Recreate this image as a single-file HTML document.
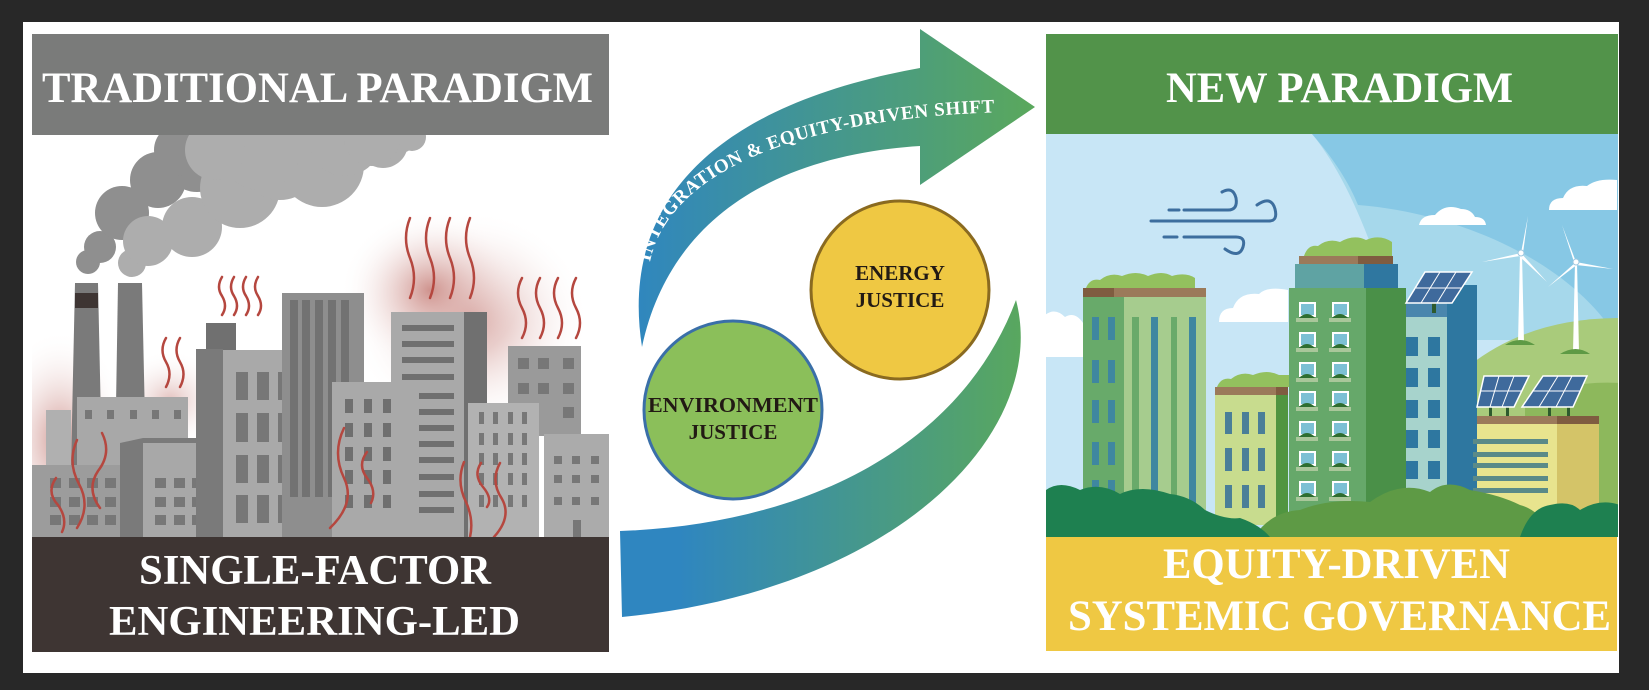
<!DOCTYPE html>
<html><head><meta charset="utf-8"><style>
html,body{margin:0;padding:0;background:#282828;}
svg{display:block;}
text{font-family:"Liberation Serif",serif;font-weight:bold;}
</style></head><body>
<svg width="1649" height="690" viewBox="0 0 1649 690" xmlns="http://www.w3.org/2000/svg">
<defs>
<linearGradient id="g1" gradientUnits="userSpaceOnUse" x1="630" y1="0" x2="1035" y2="0"><stop offset="0" stop-color="#2f86c0"/><stop offset="1" stop-color="#5aa85c"/></linearGradient>
<linearGradient id="g2" gradientUnits="userSpaceOnUse" x1="640" y1="0" x2="1030" y2="0"><stop offset="0.1" stop-color="#2f86c0"/><stop offset="1" stop-color="#5aa85c"/></linearGradient>
<radialGradient id="glow"><stop offset="0" stop-color="#c98680" stop-opacity="0.85"/><stop offset="1" stop-color="#ffffff" stop-opacity="0"/></radialGradient>
<clipPath id="lc"><rect x="32" y="135" width="577" height="402"/></clipPath>
<clipPath id="rc"><rect x="1046" y="134" width="572" height="403"/></clipPath>
</defs>
<rect x="23" y="22" width="1596" height="651" fill="#ffffff"/>

<!-- LEFT PANEL -->
<g clip-path="url(#lc)">
<ellipse cx="470" cy="320" rx="120" ry="110" fill="url(#glow)"/>
<ellipse cx="430" cy="290" rx="90" ry="80" fill="url(#glow)"/>
<ellipse cx="60" cy="440" rx="70" ry="110" fill="url(#glow)"/>
<ellipse cx="170" cy="400" rx="60" ry="50" fill="url(#glow)" opacity="0.6"/>
<!-- smoke -->
<g fill="#8f8f8f">
<circle cx="88" cy="262" r="12"/><circle cx="100" cy="247" r="16"/><circle cx="122" cy="213" r="27"/><circle cx="158" cy="180" r="28"/><circle cx="197" cy="160" r="32"/><circle cx="230" cy="140" r="30"/><circle cx="180" cy="150" r="26"/>
</g>
<g fill="#adadad">
<circle cx="132" cy="263" r="14"/><circle cx="148" cy="241" r="25"/><circle cx="192" cy="227" r="30"/><circle cx="240" cy="188" r="40"/><circle cx="280" cy="160" r="40"/><circle cx="322" cy="165" r="42"/><circle cx="383" cy="143" r="25"/><circle cx="300" cy="135" r="40"/><circle cx="400" cy="135" r="18"/>
<circle cx="260" cy="150" r="40"/><circle cx="345" cy="140" r="36"/><circle cx="372" cy="138" r="28"/><circle cx="215" cy="150" r="30"/><circle cx="412" cy="137" r="14"/>
</g>
<!-- chimneys -->
<polygon points="75,283 98,283 102,467 71,467" fill="#7a7a7a"/>
<rect x="75" y="293" width="23" height="15" fill="#3e3533"/>
<polygon points="118,283 142,283 146,467 115,467" fill="#7a7a7a"/>
<!-- factory -->
<rect x="46" y="410" width="25" height="60" fill="#b0b0b0"/>
<rect x="77" y="397" width="111" height="70" fill="#a8a8a8"/>
<g fill="#777"><rect x="85" y="410" width="7" height="9"/><rect x="107" y="410" width="7" height="9"/><rect x="130" y="410" width="7" height="9"/><rect x="152" y="410" width="7" height="9"/><rect x="174" y="410" width="7" height="9"/></g>
<rect x="32" y="465" width="90" height="72" fill="#9c9c9c"/>
<g fill="#777"><rect x="50" y="478" width="11" height="10"/><rect x="69" y="478" width="11" height="10"/><rect x="87" y="478" width="11" height="10"/><rect x="105" y="478" width="11" height="10"/>
<rect x="50" y="497" width="11" height="10"/><rect x="69" y="497" width="11" height="10"/><rect x="87" y="497" width="11" height="10"/><rect x="105" y="497" width="11" height="10"/>
<rect x="50" y="515" width="11" height="10"/><rect x="69" y="515" width="11" height="10"/><rect x="87" y="515" width="11" height="10"/><rect x="105" y="515" width="11" height="10"/></g>
<!-- building B -->
<polygon points="120,443 143,438 211,438 211,537 120,537" fill="#7a7a7a"/>
<rect x="143" y="443" width="68" height="94" fill="#a8a8a8"/>
<g fill="#777"><rect x="155" y="478" width="11" height="10"/><rect x="174" y="478" width="11" height="10"/><rect x="192" y="478" width="11" height="10"/>
<rect x="155" y="497" width="11" height="10"/><rect x="174" y="497" width="11" height="10"/><rect x="192" y="497" width="11" height="10"/>
<rect x="155" y="515" width="11" height="10"/><rect x="174" y="515" width="11" height="10"/><rect x="192" y="515" width="11" height="10"/></g>
<!-- building C -->
<rect x="206" y="323" width="30" height="27" fill="#707070"/>
<rect x="196" y="349" width="27" height="188" fill="#7a7a7a"/>
<rect x="223" y="350" width="78" height="187" fill="#a9a9a9"/>
<g fill="#777">
<rect x="236" y="372" width="12" height="28"/><rect x="257" y="372" width="12" height="28"/><rect x="278" y="372" width="12" height="28"/>
<rect x="236" y="413" width="12" height="29"/><rect x="257" y="413" width="12" height="29"/><rect x="278" y="413" width="12" height="29"/>
<rect x="236" y="455" width="12" height="28"/><rect x="257" y="455" width="12" height="28"/><rect x="278" y="455" width="12" height="28"/>
<rect x="236" y="495" width="12" height="28"/><rect x="257" y="495" width="12" height="28"/><rect x="278" y="495" width="12" height="28"/></g>
<!-- tall D -->
<rect x="282" y="293" width="82" height="244" fill="#8e8e8e"/>
<g fill="#727272"><rect x="290" y="300" width="8" height="197"/><rect x="302" y="300" width="8" height="197"/><rect x="315" y="300" width="8" height="197"/><rect x="328" y="300" width="8" height="197"/><rect x="341" y="300" width="8" height="197"/></g>
<!-- E -->
<rect x="332" y="382" width="84" height="155" fill="#a9a9a9"/>
<g fill="#6f6f6f">
<rect x="345" y="399" width="8" height="14"/><rect x="364" y="399" width="8" height="14"/><rect x="383" y="399" width="8" height="14"/><rect x="401" y="399" width="8" height="14"/>
<rect x="345" y="423" width="8" height="14"/><rect x="364" y="423" width="8" height="14"/><rect x="383" y="423" width="8" height="14"/><rect x="401" y="423" width="8" height="14"/>
<rect x="345" y="447" width="8" height="14"/><rect x="364" y="447" width="8" height="14"/><rect x="383" y="447" width="8" height="14"/><rect x="401" y="447" width="8" height="14"/>
<rect x="345" y="470" width="8" height="14"/><rect x="364" y="470" width="8" height="14"/><rect x="383" y="470" width="8" height="14"/><rect x="401" y="470" width="8" height="14"/>
<rect x="345" y="495" width="8" height="13"/><rect x="364" y="495" width="8" height="13"/><rect x="383" y="495" width="8" height="13"/><rect x="401" y="495" width="8" height="13"/></g>
<!-- F -->
<rect x="391" y="312" width="73" height="225" fill="#a9a9a9"/>
<rect x="464" y="312" width="23" height="225" fill="#707070"/>
<g fill="#6f6f6f">
<rect x="402" y="325" width="52" height="6"/><rect x="402" y="341" width="52" height="6"/><rect x="402" y="357" width="52" height="6"/><rect x="402" y="374" width="52" height="6"/>
<rect x="419" y="393" width="35" height="6"/><rect x="419" y="409" width="35" height="6"/><rect x="419" y="425" width="35" height="6"/><rect x="419" y="441" width="35" height="6"/><rect x="419" y="457" width="35" height="6"/><rect x="419" y="474" width="35" height="6"/><rect x="419" y="491" width="35" height="6"/><rect x="419" y="507" width="35" height="6"/></g>
<!-- H -->
<rect x="508" y="346" width="73" height="90" fill="#9a9a9a"/>
<g fill="#777"><rect x="518" y="358" width="11" height="11"/><rect x="538" y="358" width="11" height="11"/><rect x="563" y="358" width="11" height="11"/><rect x="518" y="383" width="11" height="11"/><rect x="538" y="383" width="11" height="11"/><rect x="563" y="383" width="11" height="11"/><rect x="563" y="407" width="11" height="11"/></g>
<!-- G -->
<rect x="468" y="403" width="71" height="134" fill="#b2b2b2"/>
<g fill="#777">
<rect x="479" y="412" width="5" height="12"/><rect x="493" y="412" width="5" height="12"/><rect x="508" y="412" width="5" height="12"/><rect x="522" y="412" width="5" height="12"/>
<rect x="479" y="433" width="5" height="12"/><rect x="493" y="433" width="5" height="12"/><rect x="508" y="433" width="5" height="12"/><rect x="522" y="433" width="5" height="12"/>
<rect x="479" y="453" width="5" height="12"/><rect x="493" y="453" width="5" height="12"/><rect x="508" y="453" width="5" height="12"/><rect x="522" y="453" width="5" height="12"/>
<rect x="479" y="473" width="5" height="12"/><rect x="493" y="473" width="5" height="12"/><rect x="508" y="473" width="5" height="12"/><rect x="522" y="473" width="5" height="12"/>
<rect x="479" y="495" width="5" height="12"/><rect x="493" y="495" width="5" height="12"/><rect x="508" y="495" width="5" height="12"/><rect x="522" y="495" width="5" height="12"/></g>
<!-- I -->
<rect x="544" y="434" width="65" height="103" fill="#ababab"/>
<g fill="#777"><rect x="554" y="456" width="8" height="8"/><rect x="572" y="456" width="8" height="8"/><rect x="591" y="456" width="8" height="8"/><rect x="554" y="475" width="8" height="8"/><rect x="572" y="475" width="8" height="8"/><rect x="591" y="475" width="8" height="8"/><rect x="554" y="497" width="8" height="8"/><rect x="572" y="497" width="8" height="8"/><rect x="591" y="497" width="8" height="8"/><rect x="573" y="520" width="8" height="17"/></g>
<!-- heat squiggles -->
<g fill="none" stroke="#b5473f" stroke-width="2.5" stroke-linecap="round">
<path d="M410,218 q-8,20 0,40 q8,20 0,40"/><path d="M430,218 q-8,20 0,40 q8,20 0,40"/><path d="M450,218 q-8,20 0,40 q8,20 0,40"/><path d="M470,218 q-8,20 0,40 q8,20 0,40"/>
<path d="M222,277 q-6,10 0,19 q6,10 0,19"/><path d="M234,277 q-6,10 0,19 q6,10 0,19"/><path d="M246,277 q-6,10 0,19 q6,10 0,19"/><path d="M258,277 q-6,10 0,19 q6,10 0,19"/>
<path d="M166,338 q-7,12 0,24 q7,12 0,25"/><path d="M180,338 q-7,12 0,24 q7,12 0,25"/>
<path d="M522,278 q-8,15 0,30 q8,15 0,30"/><path d="M540,278 q-8,15 0,30 q8,15 0,30"/><path d="M558,278 q-8,15 0,30 q8,15 0,30"/><path d="M576,278 q-8,15 0,30 q8,15 0,30"/>
<path d="M56,478 q-10,14 2,27 q10,14 4,27"/><path d="M77,440 q-10,22 2,44 q12,22 -2,44"/><path d="M102,433 q10,20 -4,38 q-12,18 2,37"/>
<path d="M344,428 q-12,25 0,50 q12,25 -14,50"/><path d="M367,452 q-10,13 0,26 q10,13 4,25"/>
<path d="M464,462 q-8,20 2,40 q8,18 4,35"/><path d="M481,463 q-8,12 2,24 q10,12 4,20"/><path d="M500,463 q-10,18 2,36 q10,18 -8,38"/>
</g>
</g>
<rect x="32" y="34" width="577" height="101" fill="#7a7b7a"/>
<text x="42" y="102" font-size="43" fill="#fff" textLength="551" lengthAdjust="spacingAndGlyphs">TRADITIONAL PARADIGM</text>
<rect x="32" y="537" width="577" height="115" fill="#3e3533"/>
<text x="139" y="584" font-size="42" fill="#fff" textLength="352" lengthAdjust="spacingAndGlyphs">SINGLE-FACTOR</text>
<text x="109" y="635" font-size="42" fill="#fff" textLength="411" lengthAdjust="spacingAndGlyphs">ENGINEERING-LED</text>

<!-- MIDDLE -->
<path d="M642,347 C622,220 690,110 920,68 L920,29 L1035,107 L920,185 L920,146 C780,155 670,215 642,347 Z" fill="url(#g1)"/>
<path id="tp" d="M650,262 C668,175 790,118 1005,112" fill="none"/>
<text font-size="19" fill="#fff"><textPath href="#tp" textLength="400" lengthAdjust="spacing">INTEGRATION &amp; EQUITY-DRIVEN SHIFT</textPath></text>
<path d="M620,531 C800,525 960,450 1016,300 C1050,430 900,590 622,617 Z" fill="url(#g2)"/>
<circle cx="733" cy="410" r="89" fill="#8bbf5a" stroke="#3a6fa8" stroke-width="3"/>
<circle cx="900" cy="290" r="89" fill="#efc843" stroke="#8a6a20" stroke-width="3"/>
<text x="733" y="412" font-size="21" fill="#221a14" text-anchor="middle" textLength="170" lengthAdjust="spacingAndGlyphs">ENVIRONMENT</text>
<text x="733" y="439" font-size="21" fill="#221a14" text-anchor="middle">JUSTICE</text>
<text x="900" y="280" font-size="21" fill="#221a14" text-anchor="middle">ENERGY</text>
<text x="900" y="307" font-size="21" fill="#221a14" text-anchor="middle">JUSTICE</text>

<!-- RIGHT PANEL -->
<g clip-path="url(#rc)">
<rect x="1046" y="134" width="572" height="403" fill="#c8e6f6"/>
<path d="M1312,134 C1350,180 1380,260 1400,340 L1620,340 L1620,134 Z" fill="#a6d8eb"/>
<path d="M1312,134 C1335,160 1350,185 1358,205 C1450,212 1560,255 1612,330 L1620,330 V134 Z" fill="#87c8e5"/>
<g fill="#fff">
<path d="M1549,210 q0,-12 14,-12 q6,-14 24,-12 q10,-8 30,-6 v30 z"/>
<path d="M1419,225 q2,-10 16,-10 q10,-12 26,-6 q10,0 14,8 q10,0 11,8 z"/>
<path d="M1219,322 q0,-14 14,-14 q6,-16 26,-14 q8,-8 29,-4 v32 z"/>
<path d="M1045,357 V315 q10,-8 20,2 q10,-6 18,6 V357 z"/>
</g>
<path d="M1470,365 Q1530,318 1620,318 L1620,537 L1470,537 Z" fill="#a9cb7b"/>
<path d="M1525,400 Q1570,380 1620,383 V537 H1525 Z" fill="#8db85c"/>
<g fill="none" stroke="#3d6e9e" stroke-width="3" stroke-linecap="round">
<path d="M1169,210 h10"/><path d="M1184,210 h44 q10,0 8,-12 q-3,-12 -14,-6"/>
<path d="M1151,221 h118 q9,0 6,-12 q-4,-14 -18,-4"/>
<path d="M1164,237 h13"/><path d="M1184,237 h52 q10,0 7,10 q-4,12 -18,2"/>
</g>
<g fill="#fff">
<polygon points="1518,343 1520,253 1522,253 1524,343"/>
<polygon points="1521,253 1528,216 1523,253"/><polygon points="1521,253 1482,262 1520,256"/><polygon points="1521,253 1547,282 1519,256"/>
<circle cx="1521" cy="253" r="3" fill="#fff" stroke="#9fc8e0"/>
<polygon points="1573,352 1575,262 1577,262 1579,352"/>
<polygon points="1576,262 1562,225 1574,262"/><polygon points="1576,262 1613,269 1576,265"/><polygon points="1576,262 1548,287 1578,264"/>
<circle cx="1576" cy="262" r="3" fill="#fff" stroke="#9fc8e0"/>
</g>
<path d="M1505,345 q15,-10 30,0 z" fill="#5e9a45"/><path d="M1560,354 q16,-10 30,0 z" fill="#5e9a45"/>
<path d="M1086,288 q4,-10 14,-8 q10,-8 22,-4 q14,-6 26,0 q14,-6 24,0 q14,-4 23,2 v10 z" fill="#93c15e"/>
<rect x="1083" y="288" width="123" height="9" fill="#9b7a5a"/><rect x="1083" y="288" width="31" height="9" fill="#7f5c40"/>
<rect x="1083" y="297" width="41" height="215" fill="#68aa6a"/>
<rect x="1124" y="297" width="82" height="215" fill="#a6cc8e"/>
<g fill="#3f87a0">
<rect x="1092" y="317" width="7" height="23"/><rect x="1108" y="317" width="7" height="23"/>
<rect x="1092" y="360" width="7" height="23"/><rect x="1108" y="360" width="7" height="23"/>
<rect x="1092" y="400" width="7" height="23"/><rect x="1108" y="400" width="7" height="23"/>
<rect x="1092" y="442" width="7" height="23"/><rect x="1108" y="442" width="7" height="23"/>
<rect x="1092" y="480" width="7" height="23"/><rect x="1108" y="480" width="7" height="23"/>
<rect x="1151" y="317" width="7" height="186"/><rect x="1189" y="317" width="7" height="186"/></g>
<g fill="#69aa6a"><rect x="1132" y="317" width="7" height="186"/><rect x="1171" y="317" width="6" height="186"/></g>
<path d="M1217,387 q4,-10 14,-8 q10,-8 22,-4 q14,-6 26,0 l10,0 v12 z" fill="#93c15e"/>
<rect x="1215" y="387" width="73" height="8" fill="#9b7a5a"/><rect x="1276" y="387" width="12" height="8" fill="#7f5c40"/>
<rect x="1215" y="395" width="61" height="130" fill="#c8dc8e"/><rect x="1276" y="395" width="12" height="130" fill="#509540"/>
<g fill="#4a7f98">
<rect x="1225" y="412" width="7" height="22"/><rect x="1242" y="412" width="7" height="22"/><rect x="1258" y="412" width="7" height="22"/>
<rect x="1225" y="448" width="7" height="23"/><rect x="1242" y="448" width="7" height="23"/><rect x="1258" y="448" width="7" height="23"/>
<rect x="1225" y="485" width="7" height="23"/><rect x="1242" y="485" width="7" height="23"/><rect x="1258" y="485" width="7" height="23"/></g>
<path d="M1304,256 q4,-12 14,-10 q10,-8 22,-4 q14,-8 26,-2 q14,-6 26,2 v14 z" fill="#93c15e"/>
<rect x="1299" y="256" width="94" height="8" fill="#9b7a5a"/><rect x="1358" y="256" width="35" height="8" fill="#7f5c40"/>
<rect x="1295" y="264" width="69" height="24" fill="#5fa3a3"/><rect x="1364" y="264" width="34" height="24" fill="#2f77a0"/>
<rect x="1289" y="288" width="77" height="240" fill="#66a86a"/><rect x="1366" y="288" width="40" height="240" fill="#4a9048"/>
<g id="wr">
<rect x="1299" y="302" width="17" height="15" fill="#fff"/><rect x="1301" y="304" width="13" height="11" fill="#7cc0d4"/><rect x="1296" y="318" width="22" height="4" fill="#a9c79a"/><path d="M1299,318 q8,-8 16,0z" fill="#2e6e30"/>
<rect x="1332" y="302" width="17" height="15" fill="#fff"/><rect x="1334" y="304" width="13" height="11" fill="#7cc0d4"/><rect x="1329" y="318" width="22" height="4" fill="#a9c79a"/><path d="M1332,318 q8,-8 16,0z" fill="#2e6e30"/>
</g>
<use href="#wr" y="30"/><use href="#wr" y="60"/><use href="#wr" y="89"/><use href="#wr" y="119"/><use href="#wr" y="149"/><use href="#wr" y="179"/>
<polygon points="1406,303 1430,285 1477,285 1477,317 1406,317" fill="#4a86ad"/>
<rect x="1406" y="317" width="41" height="200" fill="#a7d3cc"/><rect x="1447" y="285" width="30" height="232" fill="#2e77a0"/>
<g fill="#2e77a0">
<rect x="1406" y="337" width="12" height="19"/><rect x="1428" y="337" width="12" height="19"/>
<rect x="1406" y="368" width="12" height="19"/><rect x="1428" y="368" width="12" height="19"/>
<rect x="1406" y="400" width="12" height="18"/><rect x="1428" y="400" width="12" height="18"/>
<rect x="1406" y="430" width="12" height="18"/><rect x="1428" y="430" width="12" height="18"/>
<rect x="1406" y="461" width="12" height="18"/><rect x="1428" y="461" width="12" height="18"/>
<rect x="1406" y="492" width="12" height="18"/><rect x="1428" y="492" width="12" height="18"/></g>
<rect x="1432" y="303" width="4" height="10" fill="#2d5a2d"/>
<polygon points="1425,272 1472,272 1452,303 1406,303" fill="#3f6a9c" stroke="#fff" stroke-width="1.5"/>
<g stroke="#fff" stroke-width="1"><line x1="1416" y1="288" x2="1462" y2="288"/><line x1="1440" y1="272" x2="1421" y2="303"/><line x1="1456" y1="272" x2="1437" y2="303"/></g>
<rect x="1477" y="416" width="122" height="8" fill="#9b7a5a"/><rect x="1557" y="416" width="42" height="8" fill="#7f5c40"/>
<rect x="1477" y="424" width="80" height="95" fill="#e8e48e"/><rect x="1557" y="424" width="42" height="95" fill="#d4c468"/>
<g fill="#5a8a88"><rect x="1473" y="439" width="75" height="5"/><rect x="1473" y="452" width="75" height="5"/><rect x="1473" y="463" width="75" height="5"/><rect x="1473" y="476" width="75" height="5"/><rect x="1473" y="488" width="75" height="5"/></g>
<g fill="#2d5a2d"><rect x="1489" y="407" width="3" height="9"/><rect x="1506" y="395" width="3" height="21"/><rect x="1548" y="407" width="3" height="9"/><rect x="1567" y="395" width="3" height="21"/></g>
<polygon points="1484,376 1529,376 1514,407 1477,407" fill="#3f6a9c" stroke="#fff" stroke-width="1.5"/>
<polygon points="1543,376 1587,376 1573,407 1522,407" fill="#3f6a9c" stroke="#fff" stroke-width="1.5"/>
<g stroke="#fff" stroke-width="1"><line x1="1480" y1="391" x2="1522" y2="391"/><line x1="1499" y1="376" x2="1490" y2="407"/><line x1="1514" y1="376" x2="1502" y2="407"/>
<line x1="1532" y1="391" x2="1580" y2="391"/><line x1="1558" y1="376" x2="1539" y2="407"/><line x1="1572" y1="376" x2="1556" y2="407"/></g>
<path d="M1254,537 Q1270,512 1300,510 Q1330,498 1370,502 Q1400,480 1430,492 Q1447,478 1470,490 Q1500,495 1520,505 Q1540,510 1555,537 Z" fill="#5e9a45"/>
<path d="M1046,537 V490 Q1060,480 1080,490 Q1100,482 1120,494 Q1140,484 1170,494 Q1190,496 1205,510 Q1225,520 1240,518 Q1260,525 1270,537 Z" fill="#1e8050"/>
<path d="M1520,537 Q1530,508 1550,505 Q1570,500 1580,510 Q1600,498 1620,505 V537 Z" fill="#1e8050"/>
</g>
<rect x="1046" y="34" width="572" height="100" fill="#52934a"/>
<text x="1166" y="102" font-size="43" fill="#fff" textLength="347" lengthAdjust="spacingAndGlyphs">NEW PARADIGM</text>
<rect x="1046" y="537" width="571" height="114" fill="#efc843"/>
<text x="1163" y="578" font-size="43" fill="#fff" textLength="347" lengthAdjust="spacingAndGlyphs">EQUITY-DRIVEN</text>
<text x="1068" y="630" font-size="43" fill="#fff" textLength="543" lengthAdjust="spacingAndGlyphs">SYSTEMIC GOVERNANCE</text>
</svg>
</body></html>
